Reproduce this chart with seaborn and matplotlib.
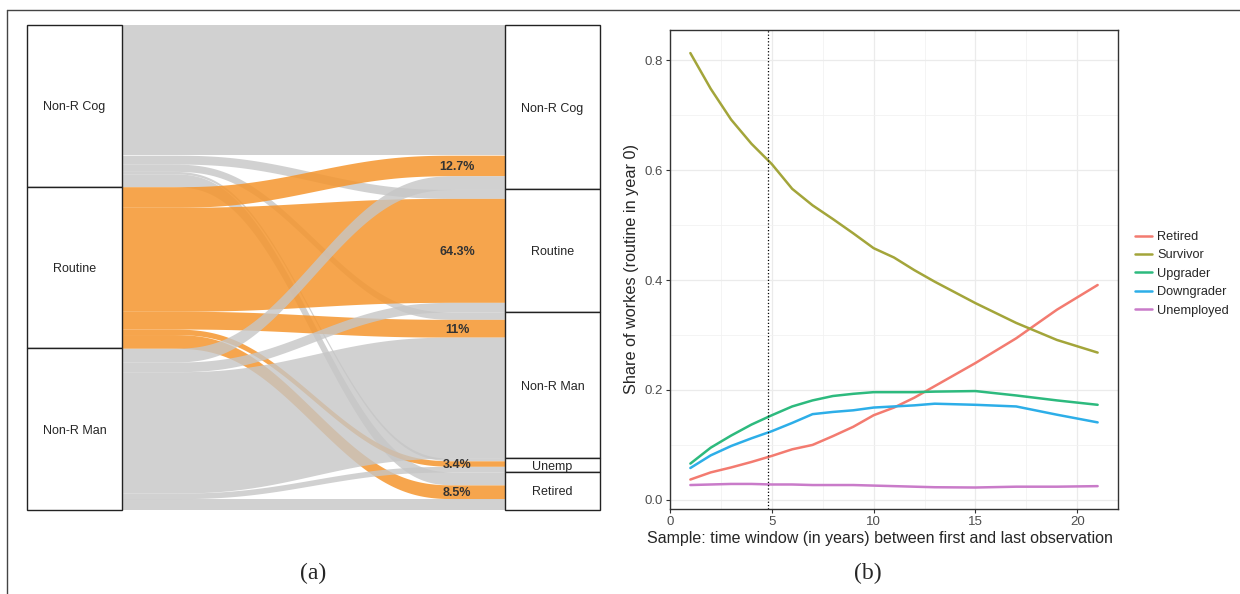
import numpy as np
import pandas as pd
import matplotlib
matplotlib.use("Agg")
import matplotlib.pyplot as plt
import seaborn as sns
from matplotlib.lines import Line2D
from matplotlib.patches import Rectangle

# ---------- panel (a): transitions out of each starting group (% of group) ----------
origin_groups = ["Non-R Cog", "Routine", "Non-R Man"]
dest_groups = ["Non-R Cog", "Routine", "Non-R Man", "Unemp", "Retired"]
flows_nonr_cog = [80.5, 5.5, 4.5, 1.5, 8.0]
flows_routine = [12.7, 64.3, 11.0, 3.4, 8.5]
flows_nonr_man = [8.5, 6.0, 75.0, 3.5, 7.0]
routine_labels = ["12.7%", "64.3%", "11%", "3.4%", "8.5%"]

# ---------- panel (b): share of workers routine in year 0 ----------
years = [1, 2, 3, 4, 5, 6, 7, 8, 9, 10, 11, 12, 13, 15, 17, 19, 21]
retired = [0.037, 0.050, 0.059, 0.069, 0.080, 0.092, 0.100, 0.116, 0.133, 0.154,
           0.168, 0.186, 0.207, 0.249, 0.294, 0.346, 0.391]
survivor = [0.813, 0.748, 0.692, 0.648, 0.611, 0.566, 0.536, 0.511, 0.485, 0.458,
            0.441, 0.418, 0.397, 0.358, 0.322, 0.291, 0.268]
upgrader = [0.066, 0.095, 0.117, 0.137, 0.154, 0.170, 0.181, 0.189, 0.193, 0.196,
            0.196, 0.196, 0.197, 0.198, 0.190, 0.181, 0.173]
downgrader = [0.058, 0.081, 0.098, 0.112, 0.125, 0.140, 0.156, 0.160, 0.163, 0.168,
              0.170, 0.172, 0.175, 0.173, 0.170, 0.155, 0.141]
unemployed = [0.027, 0.028, 0.029, 0.029, 0.028, 0.028, 0.027, 0.027, 0.027, 0.026,
              0.025, 0.024, 0.023, 0.0225, 0.024, 0.024, 0.025]
series_names = ["Retired", "Survivor", "Upgrader", "Downgrader", "Unemployed"]
cutoff_year = 4.8

sns.set_style("white")
plt.rcParams['font.family'] = ['Liberation Sans', 'DejaVu Sans']

W, H = 1240, 594
fig = plt.figure(figsize=(W / 100, H / 100), dpi=100)


def px_axes(x0, y0, x1, y1):
    # axes from pixel box (top-left origin)
    return fig.add_axes([x0 / W, 1 - y1 / H, (x1 - x0) / W, (y1 - y0) / H])


# ================= (a) alluvial =================
ax_a = px_axes(27, 25, 600, 510)
node_w, gap = 95, 383
x_l, x_r = node_w, node_w + gap
flow_mat = np.array([flows_nonr_cog, flows_routine, flows_nonr_man])
total = flow_mat.sum()
ax_a.set_xlim(0, 2 * node_w + gap)
ax_a.set_ylim(total, 0)
ax_a.axis('off')

left_start = np.concatenate([[0], np.cumsum(flow_mat.sum(axis=1))[:-1]])
right_start = np.concatenate([[0], np.cumsum(flow_mat.sum(axis=0))[:-1]])


def ease(t):
    t = np.clip((t - 0.12) / 0.76, 0, 1)
    return t ** 3 * (t * (6 * t - 15) + 10)


xs = np.linspace(x_l, x_r, 300)
s = ease((xs - x_l) / (x_r - x_l))
label_pos = []
for i in range(3):
    for j in range(5):
        v = flow_mat[i, j]
        l_top = left_start[i] + flow_mat[i, :j].sum()
        r_top = right_start[j] + flow_mat[:i, j].sum()
        top = l_top + (r_top - l_top) * s
        bot = top + v
        if i == 1:
            ax_a.fill_between(xs, top, bot, color='#F5962E', alpha=0.85, lw=0)
            label_pos.append(r_top + v / 2)
        else:
            ax_a.fill_between(xs, top, bot, color='#C6C6C6', alpha=0.8, lw=0)

for lab, yc in zip(routine_labels, label_pos):
    ax_a.text(x_r - 48, yc, lab, ha='center', va='center_baseline', fontsize=9,
              fontweight='bold', color='#333333')

for i, name in enumerate(origin_groups):
    h = flow_mat[i].sum()
    ax_a.add_patch(Rectangle((0, left_start[i]), node_w, h, facecolor='white',
                             edgecolor='#222222', lw=1, clip_on=False))
    ax_a.text(node_w / 2, left_start[i] + h / 2, name, ha='center',
              va='center_baseline', fontsize=9)
for j, name in enumerate(dest_groups):
    h = flow_mat[:, j].sum()
    ax_a.add_patch(Rectangle((x_r, right_start[j]), node_w, h, facecolor='white',
                             edgecolor='#222222', lw=1, clip_on=False))
    ax_a.text(x_r + node_w / 2, right_start[j] + h / 2, name, ha='center',
              va='center_baseline', fontsize=9)

# ================= (b) line chart =================
ax_b = px_axes(670, 30, 1118, 509)
df = pd.DataFrame({'year': years, 'Retired': retired, 'Survivor': survivor,
                   'Upgrader': upgrader, 'Downgrader': downgrader,
                   'Unemployed': unemployed})
df_long = df.melt(id_vars='year', var_name='group', value_name='share')
palette = {"Retired": "#F37B70", "Survivor": "#A3A53A", "Upgrader": "#2DBA7E",
           "Downgrader": "#2DAEE8", "Unemployed": "#C97BC9"}
sns.lineplot(data=df_long, x='year', y='share', hue='group', hue_order=series_names,
             palette=palette, linewidth=1.8, ax=ax_b, legend=False)
ax_b.axvline(cutoff_year, color='black', ls=':', lw=0.9)

ax_b.set_xlim(0, 22)
ax_b.set_ylim(-0.0166, 0.855)
ax_b.set_xticks([0, 5, 10, 15, 20])
ax_b.set_xticks([2.5, 7.5, 12.5, 17.5], minor=True)
ax_b.set_yticks([0.0, 0.2, 0.4, 0.6, 0.8])
ax_b.set_yticklabels(['0.0', '0.2', '0.4', '0.6', '0.8'])
ax_b.set_yticks([0.1, 0.3, 0.5, 0.7], minor=True)
ax_b.grid(which='major', color='#EBEBEB', lw=0.9)
ax_b.grid(which='minor', color='#F2F2F2', lw=0.6)
ax_b.set_axisbelow(True)
ax_b.tick_params(which='major', length=3, color='#333333', labelsize=9.5,
                 labelcolor='#4D4D4D', pad=2, bottom=True, left=True)
ax_b.tick_params(which='minor', length=0)
for sp in ax_b.spines.values():
    sp.set_color('#333333')
    sp.set_linewidth(1)
ax_b.set_xlabel('Sample: time window (in years) between first and last observation',
                fontsize=11.5)
ax_b.xaxis.set_label_coords(0.468, -0.045)
ax_b.set_ylabel('Share of workes (routine in year 0)', fontsize=11.7, labelpad=4)

handles = [Line2D([0], [0], color=palette[n], lw=1.8) for n in series_names]
fig.legend(handles, series_names, loc='upper left',
           bbox_to_anchor=(1135 / W, 1 - 231 / H), frameon=False, fontsize=9.2,
           handlelength=1.3, handletextpad=0.45, labelspacing=0.5,
           borderpad=0, borderaxespad=0)

# captions
fig.text(313 / W, 1 - 573 / H, '(a)', ha='center', va='center', fontsize=17,
         family=['Liberation Serif', 'DejaVu Serif'])
fig.text(868 / W, 1 - 573 / H, '(b)', ha='center', va='center', fontsize=17,
         family=['Liberation Serif', 'DejaVu Serif'])

# outer frame (top and left edges)
fig.add_artist(Line2D([7 / W, 1], [1 - 10 / H, 1 - 10 / H], transform=fig.transFigure,
                      color='#444444', lw=1))
fig.add_artist(Line2D([7 / W, 7 / W], [0, 1 - 10 / H], transform=fig.transFigure,
                      color='#444444', lw=1))

fig.savefig('out.png', dpi=100)
